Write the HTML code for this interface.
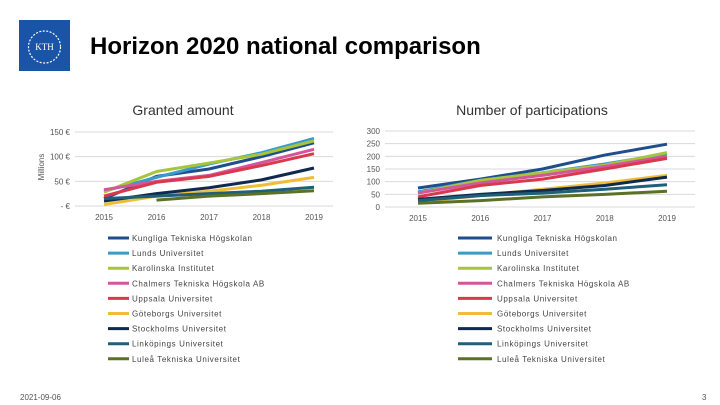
<!DOCTYPE html>
<html><head><meta charset="utf-8"><style>
body{margin:0;width:720px;height:405px;background:#fff;overflow:hidden;font-family:"Liberation Sans",sans-serif}
svg{position:absolute;left:0;top:0}
</style></head><body>
<svg width="720" height="405" id="s">
<g>
<rect x="19" y="20" width="51" height="51" fill="#1954a6"/>
<circle cx="44.5" cy="47" r="16" fill="none" stroke="#fff" stroke-width="1.2" stroke-dasharray="2 1.5"/>
<text x="44.5" y="50" fill="#fff" font-size="9" text-anchor="middle" font-family="Liberation Serif">KTH</text>
</g>
<text x="90" y="54" font-size="24" font-weight="bold" fill="#000">Horizon 2020 national comparison</text>
<text x="183" y="115" font-size="14" fill="#333" text-anchor="middle">Granted amount</text>
<text x="532" y="115" font-size="14" fill="#333" text-anchor="middle">Number of participations</text>
<text transform="translate(44,167) rotate(-90)" font-size="8" fill="#555" text-anchor="middle">Millions</text>
<g id="left"></g>
<g id="right"></g>
<g id="legends"></g>
<text x="20" y="400" font-size="8" fill="#555">2021-09-06</text>
<text x="702" y="400" font-size="8" fill="#555">3</text>
</svg>
<script>
const years=["2015","2016","2017","2018","2019"];
const names=["Kungliga Tekniska Högskolan","Lunds Universitet","Karolinska Institutet","Chalmers Tekniska Högskola AB","Uppsala Universitet","Göteborgs Universitet","Stockholms Universitet","Linköpings Universitet","Luleå Tekniska Universitet"];
const colors=["#1f4e8c","#3a9bc8","#a8c43c","#d4569a","#d8394c","#efbe38","#0f2a4e","#1e6078","#5b7126"];
const amount=[[15,60,75,100,128],[30,58,85,108,137],[28,70,87,105,132],[33,50,62,88,115],[20,48,60,82,106],[3,20,30,42,58],[10,25,37,53,77],[15,20,25,30,38],[null,12,20,25,31]];
const parts=[[75,110,150,205,248],[60,105,135,170,210],[55,105,135,165,215],[55,95,125,160,200],[40,85,110,150,192],[20,45,70,95,125],[30,50,65,85,118],[25,45,55,70,88],[15,25,40,50,62]];
const amountTicks=[0,50,100,150],amountLabels=["- €","50 €","100 €","150 €"];
const partTicks=[0,50,100,150,200,250,300];
const NS="http://www.w3.org/2000/svg";
function mk(t,a,p){const e=document.createElementNS(NS,t);for(const k in a)e.setAttribute(k,a[k]);p.appendChild(e);return e;}
function chart(g,data,ticks,labels,max,x0,x1,gx0,gx1,y0,y1){
 const sx=i=>x0+(x1-x0)*i/(years.length-1), sy=v=>y0-(y0-y1)*v/max;
 ticks.forEach((t,i)=>{
  const l=mk('line',{x1:gx0,x2:gx1,y1:sy(t),y2:sy(t),stroke:'#d9d9d9','stroke-width':1},g);
  
  
  const tx=mk('text',{x:gx0-5,y:sy(t)+3,'font-size':8,fill:'#555','text-anchor':'end'},g);
  tx.textContent=labels[i];
  
  
 });
 years.forEach((y,i)=>{
  const tx=mk('text',{x:sx(i),y:y0+14,'font-size':8,fill:'#555','text-anchor':'middle'},g);
  tx.textContent=y;
  
  
 });
 data.forEach((s,k)=>{
  let d='';s.forEach((v,i)=>{if(v==null)return;d+=(d?'L':'M')+sx(i)+','+sy(v);});
  const p=mk('path',{d:d,fill:'none',stroke:colors[k],'stroke-width':3,'stroke-linejoin':'round'},g);
  
  
 });
}
chart(document.getElementById('left'),amount,amountTicks,amountLabels,150,104,314,75,333,206,132);
chart(document.getElementById('right'),parts,partTicks,partTicks.map(String),300,418,667,385,695,207,131);
const lg=document.getElementById('legends');
names.forEach((n,k)=>{
 const y=238+k*15.1;
 [[108,129,132],[458,492,497]].forEach(c=>{
  const l=mk('line',{x1:c[0],x2:c[1],y1:y,y2:y,stroke:colors[k],'stroke-width':3},lg);
  
  
  const t=mk('text',{x:c[2],y:y+3,'font-size':8,fill:'#444','letter-spacing':'0.6'},lg);
  t.textContent=n;
  
  
 });
});
</script>
</body></html>
